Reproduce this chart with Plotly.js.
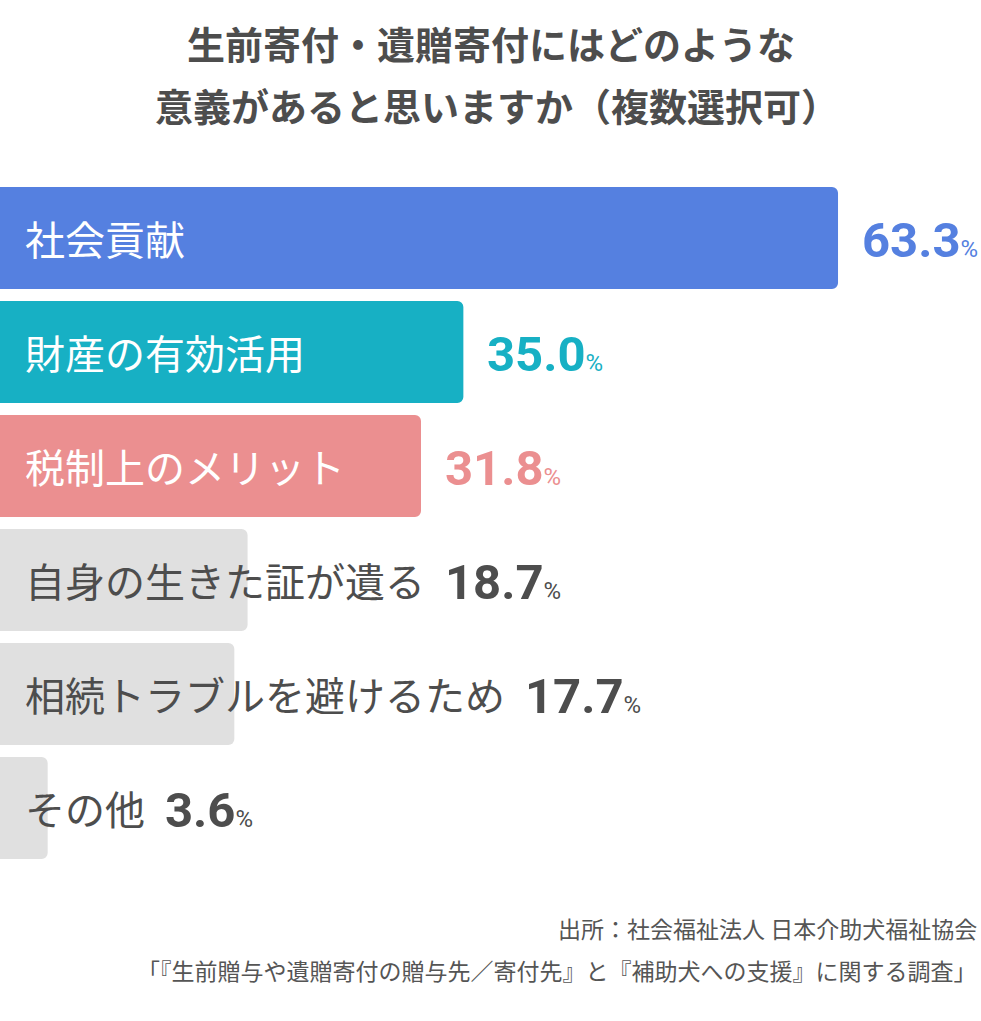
<!DOCTYPE html>
<html>
<head>
<meta charset="utf-8">
<script src="https://cdn.plot.ly/plotly-3.0.1.min.js"></script>
<style>
  html, body { margin: 0; padding: 0; background: #fff; }
  #chart { width: 981px; height: 1021px; }
</style>
</head>
<body>
<div id="chart"></div>
<script>
const categories = ['社会貢献', '財産の有効活用', '税制上のメリット', '自身の生きた証が遺る', '相続トラブルを避けるため', 'その他']
const values = [63.3, 35.0, 31.8, 18.7, 17.7, 3.6]
const barColors = ['#5580e0', '#17b0c4', '#eb8f90', '#e0e0e0', '#e0e0e0', '#e0e0e0']
const labelColors = ['#ffffff', '#ffffff', '#ffffff', '#4d4d4d', '#4d4d4d', '#4d4d4d']
const valueColors = ['#5580e0', '#17b0c4', '#eb8f90', '#4d4d4d', '#4d4d4d', '#4d4d4d']
const titleLines = ['生前寄付・遺贈寄付にはどのような', '意義があると思いますか（複数選択可）']
const sourceLines = ['出所：社会福祉法人 日本介助犬福祉協会', '「『生前贈与や遺贈寄付の贈与先／寄付先』と『補助犬への支援』に関する調査」']

const W = 981
const H = 1021
const margin = { l: 0, r: 0, t: 181, b: 156 }
const xMax = 74.1
const pxPerUnit = (W - margin.l - margin.r) / xMax

const jpFont = "'Noto Sans CJK JP', 'Noto Sans', sans-serif"
const numFont = "Roboto, 'Noto Sans', sans-serif"
const labelSize = 40
const labelPad = 25

// label width, so the value can sit after the label when the bar is too short
const ctx = document.createElement('canvas').getContext('2d')
ctx.font = labelSize + "px 'Noto Sans CJK JP'"
const labelWidths = categories.map(c => ctx.measureText(c).width)

const paperH = H - margin.t - margin.b
const py = px => (H - margin.b - px) / paperH

const annotations = []

categories.forEach((c, i) => {
  annotations.push({
    x: 0, y: c, xref: 'x', yref: 'y',
    xanchor: 'left', yanchor: 'middle',
    xshift: labelPad - 2,
    text: c,
    showarrow: false,
    font: { family: jpFont, size: labelSize, color: labelColors[i] },
  })

  const barEnd = values[i] * pxPerUnit
  const labelEnd = labelPad + labelWidths[i]
  const shift = labelEnd + 8 > barEnd ? labelEnd - barEnd + 18 : 22
  annotations.push({
    x: values[i], y: c, xref: 'x', yref: 'y',
    xanchor: 'left', yanchor: 'middle',
    xshift: shift, yshift: -2,
    text: values[i].toFixed(1) + "<span style='font-size:24px;font-weight:normal'>%</span>",
    showarrow: false,
    font: { family: numFont, size: 49, color: valueColors[i], weight: 'bold' },
  })
})

annotations.push({
  x: 0.5, y: py(42), xref: 'paper', yref: 'paper',
  xanchor: 'center', yanchor: 'middle',
  text: titleLines[0], showarrow: false,
  font: { family: jpFont, size: 38, color: '#4d4d4d', weight: 'bold' },
})
annotations.push({
  x: 0.5, y: py(105), xref: 'paper', yref: 'paper',
  xanchor: 'center', yanchor: 'middle', xshift: 6,
  text: titleLines[1], showarrow: false,
  font: { family: jpFont, size: 38, color: '#4d4d4d', weight: 'bold' },
})
annotations.push({
  x: 1, y: py(928), xref: 'paper', yref: 'paper',
  xanchor: 'right', yanchor: 'middle', xshift: -2,
  text: sourceLines[0], showarrow: false,
  font: { family: jpFont, size: 23, color: '#555555' },
})
annotations.push({
  x: 1, y: py(970), xref: 'paper', yref: 'paper',
  xanchor: 'right', yanchor: 'middle', xshift: -2,
  text: sourceLines[1], showarrow: false,
  font: { family: jpFont, size: 23, color: '#555555' },
})

const data = [{
  type: 'bar',
  orientation: 'h',
  y: categories,
  x: values,
  marker: { color: barColors, cornerradius: 6, line: { width: 0 } },
  hoverinfo: 'none',
}]

const layout = {
  width: W,
  height: H,
  margin,
  showlegend: false,
  paper_bgcolor: '#ffffff',
  plot_bgcolor: '#ffffff',
  bargap: 0.105,
  xaxis: { range: [0, xMax], visible: false, fixedrange: true },
  yaxis: { autorange: 'reversed', visible: false, fixedrange: true },
  annotations,
}

Plotly.newPlot('chart', data, layout, { displayModeBar: false, staticPlot: true })
</script>
</body>
</html>
